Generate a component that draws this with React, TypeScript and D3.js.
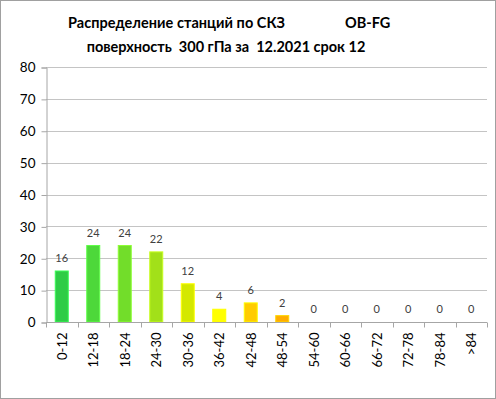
import React, { useEffect, useRef } from 'react';
import * as d3 from 'd3';

const categories = ['0-12', '12-18', '18-24', '24-30', '30-36', '36-42', '42-48', '48-54', '54-60', '60-66', '66-72', '72-78', '78-84', '>84'];
const counts = [16, 24, 24, 22, 12, 4, 6, 2, 0, 0, 0, 0, 0, 0];
const barColors = ['#2ecc46', '#4dd83a', '#72dd2a', '#a2e019', '#d4e800', '#ffff00', '#ffcc00', '#ffad00', '#ffad00', '#ffad00', '#ffad00', '#ffad00', '#ffad00', '#ffad00'];
const yTicks = [0, 10, 20, 30, 40, 50, 60, 70, 80];
const titleLine1 = 'Распределение станций по СКЗ';
const titleTag = 'OB-FG';
const titleLine2 = 'поверхность  300 гПа за  12.2021 срок 12';

interface Row {
  name: string;
  count: number;
  color: string;
}

export default function App() {
  const svgRef = useRef<SVGSVGElement>(null);

  useEffect(() => {
    if (!svgRef.current) return;
    const width = 496;
    const height = 399;
    const margin = { top: 67, right: 9, bottom: 77, left: 46 };
    const font = 'Lato, "Open Sans", sans-serif';

    const data: Row[] = categories.map((name, i) => ({ name, count: counts[i], color: barColors[i] }));

    const svg = d3.select(svgRef.current);
    svg.selectAll('*').remove();

    svg.append('rect')
      .attr('x', 0.5).attr('y', 0.5)
      .attr('width', width - 1).attr('height', height - 1)
      .attr('fill', '#fff')
      .attr('stroke', '#a0a0a0');

    // title
    const title = svg.append('g').attr('font-family', font).attr('font-weight', 'bold').attr('font-size', '14.5px').attr('fill', '#000');
    title.append('text').attr('x', 68).attr('y', 28).attr('textLength', 217).text(titleLine1);
    title.append('text').attr('x', 345).attr('y', 28).text(titleTag);
    title.append('text').attr('x', 226).attr('y', 52).attr('text-anchor', 'middle').attr('xml:space', 'preserve').text(titleLine2);

    const xb = d3.scaleBand()
      .domain(categories)
      .range([margin.left, width - margin.right]);

    const y = d3.scaleLinear()
      .domain([0, 80])
      .range([height - margin.bottom, margin.top]);

    // grid
    svg.append('g')
      .selectAll('line')
      .data(yTicks.filter(t => t > 0))
      .join('line')
      .attr('x1', margin.left).attr('x2', width - margin.right)
      .attr('y1', d => Math.round(y(d)) + 0.5).attr('y2', d => Math.round(y(d)) + 0.5)
      .attr('stroke', '#c4c4c4');

    // y axis
    svg.append('g')
      .attr('transform', `translate(${margin.left + 0.5},0.5)`)
      .call(d3.axisLeft(y).tickValues(yTicks).tickSize(5).tickPadding(6))
      .call(g => g.select('.domain').attr('stroke', '#a6a6a6'))
      .call(g => g.selectAll('.tick line').attr('stroke', '#a6a6a6'))
      .call(g => g.selectAll('text').attr('font-family', font).attr('font-size', '13.5px').attr('fill', '#000'));

    // bars
    svg.append('g')
      .selectAll('rect')
      .data(data.filter(d => d.count > 0))
      .join('rect')
      .attr('x', d => (xb(d.name) || 0) + xb.bandwidth() / 2 - 6.5)
      .attr('y', d => y(d.count))
      .attr('width', 13)
      .attr('height', d => y(0) - y(d.count))
      .attr('fill', d => d.color)
      .attr('stroke', d => d3.color(d.color)!.brighter(0.6).formatHex())
      .attr('stroke-width', 1);

    // value labels
    svg.append('g')
      .selectAll('text')
      .data(data)
      .join('text')
      .attr('x', d => (xb(d.name) || 0) + xb.bandwidth() / 2)
      .attr('y', d => y(d.count) - 9)
      .attr('text-anchor', 'middle')
      .attr('font-family', font)
      .attr('font-size', '11px')
      .attr('fill', '#404040')
      .text(d => d.count);

    // x axis
    const xAxis = svg.append('g')
      .attr('transform', `translate(0,${Math.round(y(0)) + 0.5})`);
    xAxis.append('line')
      .attr('x1', margin.left).attr('x2', width - margin.right)
      .attr('stroke', '#a6a6a6');
    xAxis.selectAll('line.tk')
      .data([...categories.map(c => xb(c) || 0), width - margin.right])
      .join('line')
      .attr('class', 'tk')
      .attr('x1', d => Math.round(d) + 0.5).attr('x2', d => Math.round(d) + 0.5)
      .attr('y1', 0).attr('y2', 5)
      .attr('stroke', '#a6a6a6');
    xAxis.selectAll('text')
      .data(categories)
      .join('text')
      .attr('transform', d => `translate(${(xb(d) || 0) + xb.bandwidth() / 2 + 5},10) rotate(-90)`)
      .attr('text-anchor', 'end')
      .attr('font-family', font)
      .attr('font-size', '13px')
      .attr('fill', '#000')
      .text(d => d);
  }, []);

  return (
    <svg ref={svgRef} width={496} height={399} viewBox="0 0 496 399"
      style={{ position: 'absolute', left: 0, top: 0 }} />
  );
}
